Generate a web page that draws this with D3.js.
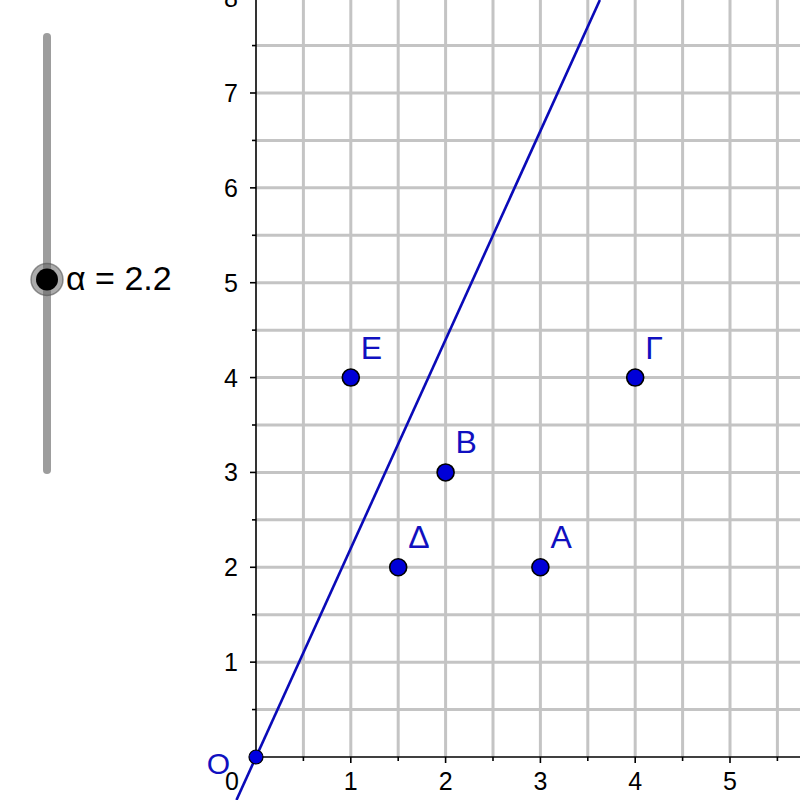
<!DOCTYPE html>
<html>
<head>
<meta charset="utf-8">
<script src="https://cdn.jsdelivr.net/npm/d3@7"></script>
<style>
  html, body { margin: 0; padding: 0; background: #fff; }
  svg { display: block; }
  text { font-family: "Liberation Sans", Arial, sans-serif; }
</style>
</head>
<body>
<svg id="chart" width="800" height="800"></svg>
<script>
// ---- data ----
const pointNames = ["Α", "Β", "Γ", "Δ", "Ε"];
const pointX = [3, 2, 4, 1.5, 1];
const pointY = [2, 3, 4, 2, 4];
const alpha = 2.2;
const sliderMin = 0;
const sliderMax = 5;
const xTickLabels = [0, 1, 2, 3, 4, 5];
const yTickLabels = [1, 2, 3, 4, 5, 6, 7, 8];
const gridStep = 0.5;

// ---- scales ----
const svg = d3.select("#chart");
const W = 800, H = 800;
const x = d3.scaleLinear().domain([0, 5]).range([256, 730]);
const y = d3.scaleLinear().domain([0, 7]).range([757, 93]);
const xMax = x.invert(W), yMax = y.invert(0);

// ---- grid ----
const grid = svg.append("g").attr("stroke", "#c4c4c4").attr("stroke-width", 3);
const vx = d3.range(gridStep, xMax + 0.01, gridStep);
const hy = d3.range(gridStep, yMax + 0.01, gridStep);
grid.selectAll("line.v").data(vx).join("line")
  .attr("x1", d => x(d)).attr("x2", d => x(d))
  .attr("y1", y(0)).attr("y2", 0);
grid.selectAll("line.h").data(hy).join("line")
  .attr("y1", d => y(d)).attr("y2", d => y(d))
  .attr("x1", x(0)).attr("x2", W);

// ---- axes ----
const ax = svg.append("g").attr("stroke", "#000").attr("stroke-width", 1.6);
ax.append("line").attr("x1", x(0)).attr("x2", W).attr("y1", y(0)).attr("y2", y(0));
ax.append("line").attr("x1", x(0)).attr("x2", x(0)).attr("y1", y(0)).attr("y2", 0);
ax.selectAll("line.xt").data(vx).join("line")
  .attr("x1", d => x(d)).attr("x2", d => x(d))
  .attr("y1", y(0)).attr("y2", d => y(0) + (d % 1 === 0 ? 6 : 4));
ax.selectAll("line.yt").data(hy).join("line")
  .attr("y1", d => y(d)).attr("y2", d => y(d))
  .attr("x1", x(0)).attr("x2", d => x(0) - (d % 1 === 0 ? 6 : 4));

const lab = svg.append("g").attr("font-size", 25).attr("fill", "#000");
lab.selectAll("text.x").data(xTickLabels).join("text")
  .attr("x", d => d === 0 ? x(0) - 17 : x(d))
  .attr("y", y(0) + 33)
  .attr("text-anchor", d => d === 0 ? "end" : "middle")
  .text(d => d);
lab.selectAll("text.y").data(yTickLabels).join("text")
  .attr("x", x(0) - 18)
  .attr("y", d => y(d) + 9)
  .attr("text-anchor", "end")
  .text(d => d);

// ---- line y = alpha * x ----
const yLo = y.invert(H), yHi = yMax;
svg.append("line")
  .attr("x1", x(yLo / alpha)).attr("y1", y(yLo))
  .attr("x2", x(yHi / alpha)).attr("y2", y(yHi))
  .attr("stroke", "#0a0ab8").attr("stroke-width", 2.6);

// ---- points ----
const pts = pointNames.map((n, i) => ({ n, x: pointX[i], y: pointY[i] }));
svg.append("g").selectAll("text").data(pts).join("text")
  .attr("x", d => x(d.x) + 10).attr("y", d => y(d.y) - 19)
  .attr("font-size", 32).attr("fill", "#1010c0")
  .text(d => d.n);
svg.append("g").selectAll("circle").data(pts).join("circle")
  .attr("cx", d => x(d.x)).attr("cy", d => y(d.y)).attr("r", 8.5)
  .attr("fill", "#0000d8").attr("stroke", "#000").attr("stroke-width", 1.6);

// origin O
svg.append("circle").attr("cx", x(0)).attr("cy", y(0)).attr("r", 7)
  .attr("fill", "#0000e0").attr("stroke", "#000").attr("stroke-width", 1.2);
svg.append("text").attr("x", x(0) - 26).attr("y", y(0) + 17)
  .attr("text-anchor", "end").attr("font-size", 30).attr("fill", "#1010c0").text("O");

// ---- slider ----
const s = d3.scaleLinear().domain([sliderMin, sliderMax]).range([470, 37]);
const sl = svg.append("g");
sl.append("line").attr("x1", 47).attr("x2", 47).attr("y1", s(sliderMin)).attr("y2", s(sliderMax))
  .attr("stroke", "#8c8c8c").attr("stroke-opacity", 0.85).attr("stroke-width", 8).attr("stroke-linecap", "round");
sl.append("circle").attr("cx", 47).attr("cy", s(alpha)).attr("r", 16)
  .attr("fill", "#666").attr("fill-opacity", 0.55).attr("stroke", "#555").attr("stroke-opacity", 0.6).attr("stroke-width", 1.5);
sl.append("circle").attr("cx", 47).attr("cy", s(alpha)).attr("r", 11).attr("fill", "#000");
sl.append("text").attr("x", 66).attr("y", s(alpha) + 11).attr("font-size", 34).attr("fill", "#000")
  .text("α = " + alpha);
</script>
</body>
</html>
